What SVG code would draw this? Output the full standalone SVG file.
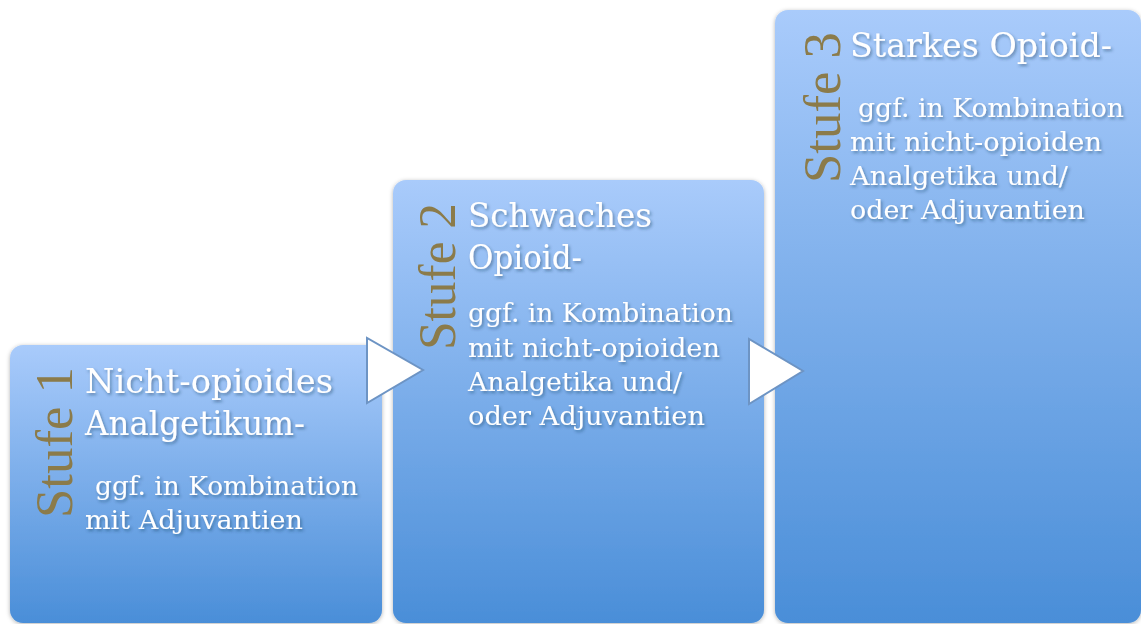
<svg xmlns="http://www.w3.org/2000/svg" width="1141" height="624" viewBox="0 0 1141 624">
<defs>
<linearGradient id="bg" x1="0" y1="0" x2="0" y2="1">
<stop offset="0" stop-color="#a9cbfb"/>
<stop offset="1" stop-color="#4a8ed8"/>
</linearGradient>
<linearGradient id="bg3" x1="0" y1="0" x2="0" y2="1">
<stop offset="0" stop-color="#a9cbfb"/>
<stop offset="1" stop-color="#4a8ed8"/>
</linearGradient>
<filter id="boxsh" x="-5%" y="-5%" width="110%" height="110%">
<feDropShadow dx="0" dy="1" stdDeviation="2" flood-color="#000" flood-opacity="0.3"/>
</filter>
<filter id="txtsh" x="-5%" y="-20%" width="110%" height="140%">
<feDropShadow dx="1.5" dy="2" stdDeviation="1.5" flood-color="#1a3050" flood-opacity="0.45"/>
</filter>
<style>
.box{fill:url(#bg);filter:url(#boxsh);}
.t{font-family:"DejaVu Serif","Liberation Serif",serif;fill:#ffffff;filter:url(#txtsh);}
.big{font-size:34px;}
.small{font-size:26px;}
.stufe{font-family:"Liberation Serif","DejaVu Serif",serif;font-size:52px;fill:#8b7b4a;}
.arrow{fill:#ffffff;stroke:#6d94c4;stroke-width:2;stroke-linejoin:miter;}
</style>
</defs>
<rect width="1141" height="624" fill="#ffffff"/>
<g id="stufe1">
<rect class="box" x="10" y="345" width="372" height="278" rx="13"/>
<text class="stufe" transform="translate(72,518) rotate(-90)" textLength="151" lengthAdjust="spacingAndGlyphs">Stufe 1</text>
<text class="t big" x="85" y="393" textLength="248" lengthAdjust="spacingAndGlyphs">Nicht-opioides</text>
<text class="t big" x="85" y="435" textLength="220" lengthAdjust="spacingAndGlyphs">Analgetikum-</text>
<text class="t small" x="95" y="495" textLength="263" lengthAdjust="spacingAndGlyphs">ggf. in Kombination</text>
<text class="t small" x="85" y="529" textLength="218" lengthAdjust="spacingAndGlyphs">mit Adjuvantien</text>
</g>
<g id="stufe2">
<rect class="box" x="393" y="180" width="371" height="443" rx="13"/>
<text class="stufe" transform="translate(455,350) rotate(-90)" textLength="147" lengthAdjust="spacingAndGlyphs">Stufe 2</text>
<text class="t big" x="468" y="227" textLength="184" lengthAdjust="spacingAndGlyphs">Schwaches</text>
<text class="t big" x="468" y="269" textLength="114" lengthAdjust="spacingAndGlyphs">Opioid-</text>
<text class="t small" x="468" y="322" textLength="265" lengthAdjust="spacingAndGlyphs">ggf. in Kombination</text>
<text class="t small" x="468" y="357" textLength="252" lengthAdjust="spacingAndGlyphs">mit nicht-opioiden</text>
<text class="t small" x="468" y="391" textLength="214" lengthAdjust="spacingAndGlyphs">Analgetika und/</text>
<text class="t small" x="468" y="425" textLength="237" lengthAdjust="spacingAndGlyphs">oder Adjuvantien</text>
</g>
<g id="stufe3">
<rect class="box" x="775" y="10" width="366" height="613" rx="13"/>
<text class="stufe" transform="translate(840,183) rotate(-90)" textLength="151" lengthAdjust="spacingAndGlyphs">Stufe 3</text>
<text class="t big" x="850" y="57" textLength="262" lengthAdjust="spacingAndGlyphs">Starkes Opioid-</text>
<text class="t small" x="858" y="117" textLength="266" lengthAdjust="spacingAndGlyphs">ggf. in Kombination</text>
<text class="t small" x="850" y="151" textLength="252" lengthAdjust="spacingAndGlyphs">mit nicht-opioiden</text>
<text class="t small" x="850" y="185" textLength="218" lengthAdjust="spacingAndGlyphs">Analgetika und/</text>
<text class="t small" x="850" y="219" textLength="235" lengthAdjust="spacingAndGlyphs">oder Adjuvantien</text>
</g>
<g id="connectors">
<polygon class="arrow" points="367,338 367,403 423,370"/>
<polygon class="arrow" points="749,339 749,404 803,371"/>
</g>
</svg>
